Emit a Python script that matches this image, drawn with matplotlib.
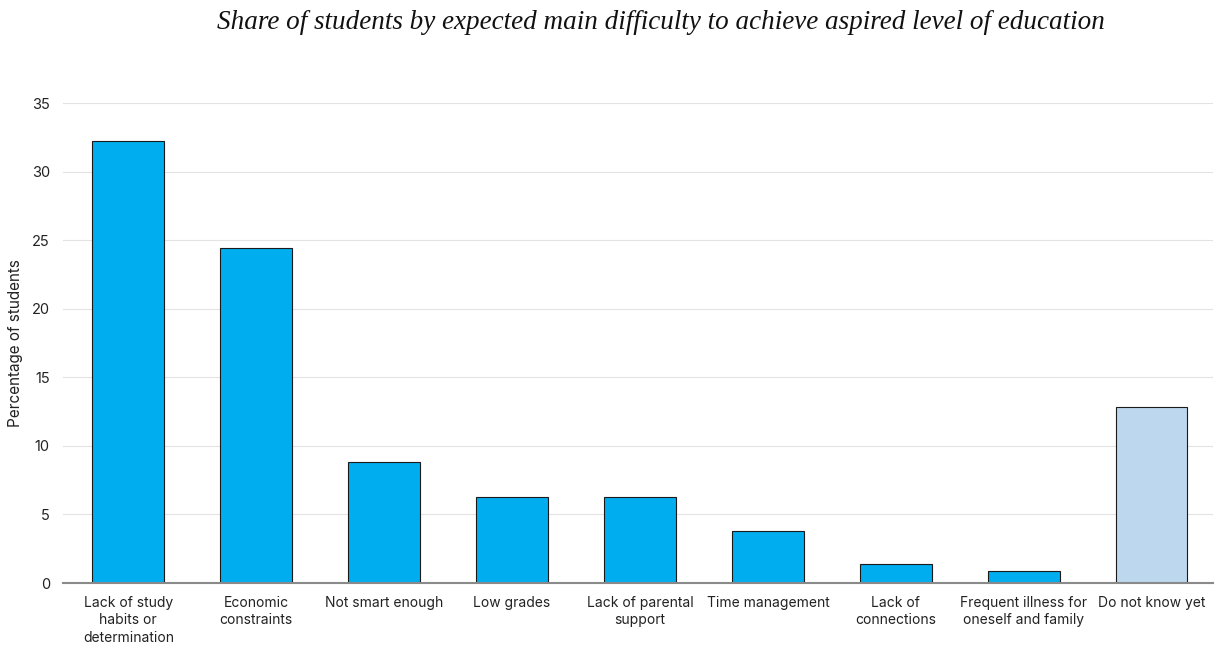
import numpy as np
import matplotlib
matplotlib.use('Agg')
import matplotlib.pyplot as plt

categories = [
    "Lack of study\nhabits or\ndetermination",
    "Economic\nconstraints",
    "Not smart enough",
    "Low grades",
    "Lack of parental\nsupport",
    "Time management",
    "Lack of\nconnections",
    "Frequent illness for\noneself and family",
    "Do not know yet",
]
shares = [32.2, 24.4, 8.8, 6.3, 6.3, 3.8, 1.4, 0.9, 12.8]
bar_colors = ['#00AEEF'] * 8 + ['#BDD7EE']
y_ticks = [0, 5, 10, 15, 20, 25, 30, 35]

title = "Share of students by expected main difficulty to achieve aspired level of education"

plt.rcParams['font.family'] = ['Inter', 'DejaVu Sans']

fig = plt.figure(figsize=(12.15, 6.45), dpi=100)
ax = fig.add_axes([0.0519, 0.0961, 0.9465, 0.7442])

x = np.arange(len(categories))
ax.bar(x, shares, width=0.56, color=bar_colors, edgecolor='#1a1a1a', linewidth=0.8, zorder=3)

ax.set_xlim(-0.51, 8.48)
ax.set_ylim(0, 35)
ax.set_yticks(y_ticks)
ax.set_yticklabels([str(t) for t in y_ticks], fontsize=10.5, color='#222222')
ax.set_xticks(x)
ax.set_xticklabels(categories, fontsize=10, color='#222222', linespacing=1.35)
ax.tick_params(axis='both', length=0)
ax.tick_params(axis='x', pad=9)
ax.tick_params(axis='y', pad=9.5)

ax.grid(axis='y', color='#e3e3e3', linewidth=0.8, zorder=0)
for side in ['top', 'right', 'left']:
    ax.spines[side].set_visible(False)
ax.spines['bottom'].set_color('#8a8a8a')
ax.spines['bottom'].set_linewidth(1.5)
ax.spines['bottom'].set_zorder(4)

ax.set_ylabel('Percentage of students', fontsize=11, color='#222222')
ax.yaxis.set_label_coords(-0.035, 0.5)

fig.text(0.544, 0.965, title, ha='center', va='center', fontsize=19.5,
         family='Liberation Serif', style='italic', color='#111111')

fig.savefig('out.png', dpi=100)
plt.close(fig)
